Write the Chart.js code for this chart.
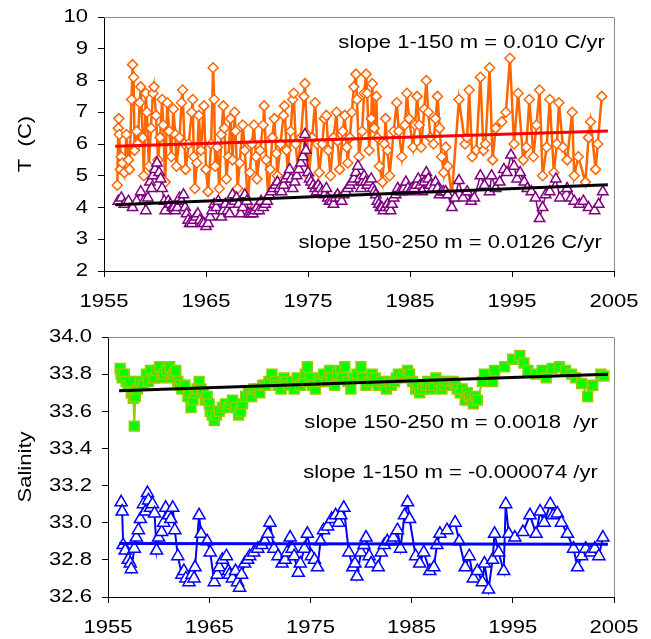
<!DOCTYPE html>
<html><head><meta charset="utf-8">
<script src="https://cdn.jsdelivr.net/npm/chart.js@4"></script>
<style>
html,body{margin:0;padding:0;background:#fff;}
#wrap{position:relative;width:651px;height:639px;background:#fff;}
#c1{position:absolute;left:0;top:0;}
#c2{position:absolute;left:0;top:320px;}
</style></head><body>
<div id="wrap"><canvas id="c1" width="651" height="320"></canvas><canvas id="c2" width="651" height="319"></canvas></div>
<script>
// ---------- DATA ----------
const xTicks = [1955, 1965, 1975, 1985, 1995, 2005];
const tTicks = [2, 3, 4, 5, 6, 7, 8, 9, 10];
const sTicks = [32.6, 32.8, 33.0, 33.2, 33.4, 33.6, 33.8, 34.0];

// Temperature 1-150 m (orange diamonds)
const tYearsShallow = [1956.3,1956.4,1956.45,1956.5,1956.6,1956.7,1956.8,1957.0,1957.2,1957.4,1957.5,1957.7,1957.8,1957.9,1958.0,1958.2,1958.3,1958.5,1958.6,1958.8,1958.9,1959.1,1959.2,1959.4,1959.6,1959.8,1959.9,1960.1,1960.3,1960.5,1960.7,1960.8,1961.0,1961.2,1961.4,1961.6,1961.8,1962.0,1962.1,1962.4,1962.6,1962.7,1962.9,1963.0,1963.3,1963.6,1963.7,1963.8,1963.9,1964.1,1964.3,1964.5,1964.8,1965.0,1965.2,1965.5,1965.7,1965.8,1965.9,1966.1,1966.3,1966.5,1966.7,1966.8,1967.0,1967.2,1967.4,1967.6,1967.8,1967.9,1968.1,1968.3,1968.6,1968.8,1969.1,1969.3,1969.5,1969.7,1969.9,1970.0,1970.3,1970.6,1970.7,1970.9,1971.1,1971.3,1971.5,1971.7,1971.9,1972.0,1972.3,1972.6,1972.7,1972.9,1973.0,1973.3,1973.5,1973.6,1973.8,1974.0,1974.3,1974.6,1974.7,1974.9,1975.1,1975.4,1975.7,1975.9,1976.1,1976.4,1976.6,1976.8,1977.0,1977.2,1977.5,1977.8,1977.9,1978.1,1978.4,1978.6,1978.8,1978.9,1979.1,1979.3,1979.5,1979.7,1979.8,1980.0,1980.3,1980.5,1980.7,1980.8,1981.0,1981.2,1981.3,1981.5,1981.7,1981.8,1982.0,1982.3,1982.5,1982.6,1982.8,1983.0,1983.4,1983.7,1983.9,1984.2,1984.5,1984.7,1984.9,1985.3,1985.5,1985.7,1985.9,1986.1,1986.4,1986.6,1986.8,1987.0,1987.3,1987.5,1987.7,1987.9,1988.1,1988.3,1988.5,1988.7,1989.1,1989.8,1990.4,1990.6,1990.8,1991.1,1991.5,1991.9,1992.2,1992.4,1992.8,1993.1,1993.4,1994.0,1994.4,1994.8,1995.2,1995.6,1996.1,1996.4,1996.7,1997.1,1997.4,1997.7,1998.0,1998.4,1998.7,1999.1,1999.4,1999.6,2000.0,2000.4,2000.9,2001.1,2001.5,2002.2,2002.5,2002.7,2003.2,2003.4,2003.8];
const tShallow = [4.7,6.5,6.8,6.3,5.2,5.6,5.4,5.1,6.3,5.5,5.2,7.4,8.5,8.1,5.8,6.4,6.0,7.3,7.8,6.2,5.0,7.6,7.0,5.3,6.5,7.6,7.8,6.9,5.5,6.2,7.4,6.6,4.8,7.3,6.4,5.6,7.1,6.3,5.3,6.2,7.3,7.7,6.0,5.2,6.0,7.0,7.4,5.6,4.6,5.4,6.9,5.8,7.2,5.2,4.5,6.0,8.4,7.4,5.3,5.9,4.6,6.3,7.2,6.5,4.9,5.6,6.8,5.5,7.0,6.4,4.6,5.4,6.6,5.8,4.1,5.1,6.0,6.6,5.6,4.9,5.8,6.6,7.2,5.5,4.3,5.2,6.2,6.8,5.7,5.0,6.0,6.9,7.2,5.8,5.0,6.4,7.4,7.6,6.0,5.2,6.2,7.5,7.9,6.3,5.0,6.2,7.3,6.0,5.1,6.0,6.8,6.9,5.8,5.0,6.2,7.0,6.1,5.2,6.4,6.9,5.9,5.4,6.2,7.0,7.8,8.2,7.4,5.6,6.4,7.6,8.2,7.6,5.8,6.8,7.9,6.5,7.5,6.2,5.3,4.8,6.0,6.8,5.8,5.0,6.4,7.3,6.4,5.6,6.6,7.6,6.8,5.9,6.6,7.5,6.6,5.9,7.1,8.0,7.0,6.2,6.0,6.8,7.5,6.5,5.6,5.1,5.9,5.3,4.4,7.4,6.0,6.2,7.7,5.6,5.8,8.1,5.8,6.0,8.4,5.5,6.5,6.7,7.0,8.7,6.0,7.6,5.5,5.9,7.4,5.6,6.6,7.7,5.0,5.9,7.4,5.1,6.0,7.3,5.9,5.5,7.0,5.0,5.6,4.8,6.2,6.7,5.2,6.0,7.5];

// Temperature 150-250 m (purple triangles)
const tYearsDeep = [1956.4,1956.7,1957.0,1957.4,1957.8,1958.2,1958.6,1958.9,1959.1,1959.3,1959.5,1959.65,1959.8,1960.0,1960.2,1960.4,1960.55,1960.7,1960.9,1961.0,1961.3,1961.5,1961.7,1961.85,1962.0,1962.2,1962.4,1962.6,1962.8,1962.95,1963.1,1963.25,1963.4,1963.6,1963.8,1964.0,1964.2,1964.4,1964.6,1964.8,1965.0,1965.2,1965.4,1965.6,1965.8,1966.0,1966.2,1966.5,1966.7,1966.9,1967.1,1967.3,1967.45,1967.6,1967.8,1968.0,1968.2,1968.4,1968.6,1968.8,1969.0,1969.2,1969.4,1969.6,1969.8,1970.0,1970.2,1970.4,1970.6,1970.8,1971.0,1971.2,1971.4,1971.6,1971.8,1972.0,1972.2,1972.4,1972.6,1972.8,1973.0,1973.2,1973.35,1973.5,1973.7,1973.9,1974.1,1974.3,1974.5,1974.7,1974.8,1975.0,1975.15,1975.3,1975.5,1975.7,1975.85,1976.0,1976.2,1976.4,1976.6,1976.8,1976.95,1977.1,1977.3,1977.5,1977.7,1977.9,1978.1,1978.3,1978.5,1978.7,1978.9,1979.1,1979.3,1979.5,1979.7,1979.9,1980.05,1980.2,1980.35,1980.5,1980.65,1980.8,1981.0,1981.2,1981.35,1981.5,1981.65,1981.8,1981.95,1982.1,1982.25,1982.4,1982.6,1982.8,1982.95,1983.1,1983.25,1983.4,1983.6,1983.8,1984.0,1984.2,1984.4,1984.6,1984.8,1985.0,1985.2,1985.4,1985.6,1985.8,1986.0,1986.2,1986.4,1986.6,1986.8,1987.0,1987.25,1987.5,1987.7,1987.9,1988.1,1988.3,1988.5,1988.7,1989.1,1989.4,1989.8,1990.2,1990.6,1991.0,1991.3,1991.9,1992.3,1992.8,1993.0,1993.4,1993.8,1994.2,1994.5,1994.9,1995.2,1995.5,1995.8,1996.2,1996.5,1996.9,1997.3,1997.7,1998.0,1998.3,1998.7,1999.3,1999.7,2000.4,2000.8,2001.1,2001.6,2002.0,2002.5,2003.1,2003.5,2003.9];
const tDeep = [4.2,4.3,4.1,4.2,4.0,4.2,4.5,4.2,3.9,4.3,4.8,4.6,5.0,5.2,5.4,5.1,4.9,4.6,4.2,3.9,4.2,4.1,4.0,4.0,3.9,4.0,4.3,4.2,4.4,4.0,3.8,3.6,3.5,3.5,3.6,3.7,3.8,3.6,3.5,3.5,3.4,3.5,3.7,3.9,4.1,4.0,4.2,3.7,3.9,4.1,3.9,3.8,4.1,4.4,4.2,4.3,4.1,3.8,4.0,4.4,4.2,3.8,3.8,3.8,3.9,4.0,3.9,4.2,4.0,4.1,4.2,4.4,4.5,4.6,4.7,4.8,4.6,4.5,4.7,4.9,5.0,5.2,4.9,4.6,4.8,5.0,5.2,5.4,5.6,6.3,5.8,5.1,4.9,4.8,4.7,4.6,4.5,4.7,4.6,4.5,4.4,4.6,4.3,4.2,4.2,4.1,4.3,4.4,4.3,4.2,4.4,4.5,4.6,4.7,4.8,4.9,5.1,5.3,4.9,4.6,4.8,5.0,4.8,4.7,4.8,4.9,4.6,4.5,4.4,4.2,4.1,4.0,4.0,3.9,4.0,4.1,4.0,3.9,4.1,4.3,4.4,4.6,4.5,4.5,4.6,4.8,4.6,4.5,4.6,4.6,4.7,4.9,4.7,4.5,4.8,5.1,4.9,4.7,4.6,4.8,4.6,4.4,4.5,4.5,4.5,4.4,4.0,4.3,4.85,4.3,4.5,4.2,4.3,5.0,4.7,4.5,5.0,4.6,4.8,5.2,5.1,5.65,5.3,4.9,5.1,4.8,4.6,4.5,4.3,3.65,4.0,4.4,4.5,4.9,4.3,4.6,4.3,4.2,4.1,4.2,4.0,3.9,4.1,4.5];

// Salinity 150-250 m (green squares)
const sYearsDeep = [1956.2,1956.3,1956.4,1956.6,1956.8,1957.0,1957.2,1957.3,1957.5,1957.6,1957.7,1957.9,1958.2,1958.5,1958.8,1959.0,1959.2,1959.4,1959.6,1959.8,1960.1,1960.3,1960.5,1960.8,1961.1,1961.3,1961.5,1961.7,1961.9,1962.1,1962.3,1962.6,1962.9,1963.0,1963.2,1963.4,1963.6,1963.8,1964.0,1964.2,1964.4,1964.6,1964.8,1965.0,1965.1,1965.3,1965.5,1965.7,1966.0,1966.3,1966.6,1966.9,1967.1,1967.3,1967.6,1967.9,1968.1,1968.3,1968.6,1968.9,1969.2,1969.4,1969.7,1970.0,1970.3,1970.6,1970.9,1971.2,1971.5,1971.8,1972.1,1972.4,1972.6,1972.9,1973.2,1973.4,1973.7,1974.0,1974.3,1974.5,1974.7,1975.0,1975.2,1975.5,1975.8,1976.0,1976.3,1976.6,1976.9,1977.1,1977.4,1977.7,1978.0,1978.2,1978.4,1978.7,1979.0,1979.3,1979.6,1980.0,1980.2,1980.5,1980.8,1981.1,1981.4,1981.7,1982.0,1982.3,1982.5,1982.8,1983.0,1983.3,1983.5,1983.7,1984.0,1984.3,1984.6,1984.8,1985.1,1985.4,1985.6,1985.8,1986.1,1986.4,1986.6,1986.9,1987.2,1987.4,1987.7,1988.0,1988.3,1988.6,1988.9,1989.1,1989.3,1989.5,1989.8,1990.0,1990.3,1990.5,1990.7,1990.9,1991.1,1991.3,1991.5,1992.0,1992.2,1993.0,1993.2,1994.2,1995.0,1995.7,1996.1,1996.5,1997.3,1997.9,1998.3,1998.9,1999.6,2000.2,2000.8,2001.2,2001.8,2002.4,2002.9,2003.7,2004.0];
const sDeep = [33.83,33.80,33.78,33.80,33.76,33.74,33.76,33.70,33.67,33.52,33.68,33.72,33.76,33.74,33.80,33.76,33.82,33.78,33.78,33.82,33.84,33.78,33.80,33.82,33.84,33.78,33.80,33.82,33.76,33.74,33.72,33.74,33.68,33.70,33.62,33.66,33.70,33.72,33.76,33.72,33.70,33.66,33.68,33.64,33.60,33.58,33.55,33.58,33.60,33.62,33.64,33.62,33.64,33.66,33.62,33.58,33.60,33.64,33.68,33.70,33.68,33.72,33.72,33.70,33.74,33.74,33.76,33.80,33.76,33.74,33.72,33.78,33.76,33.74,33.76,33.72,33.78,33.74,33.76,33.80,33.84,33.78,33.74,33.72,33.76,33.78,33.80,33.76,33.82,33.78,33.74,33.80,33.82,33.78,33.84,33.76,33.72,33.78,33.80,33.84,33.78,33.74,33.76,33.80,33.78,33.74,33.76,33.74,33.72,33.76,33.74,33.76,33.78,33.80,33.78,33.80,33.82,33.80,33.76,33.72,33.74,33.70,33.72,33.74,33.76,33.72,33.74,33.78,33.76,33.72,33.74,33.76,33.74,33.76,33.74,33.72,33.70,33.72,33.66,33.70,33.68,33.66,33.64,33.68,33.66,33.76,33.80,33.76,33.82,33.84,33.88,33.90,33.86,33.82,33.80,33.82,33.78,33.83,33.84,33.82,33.80,33.78,33.75,33.68,33.74,33.80,33.79];

// Salinity 1-150 m (blue triangles)
const sYearsShallow = [1956.3,1956.4,1956.5,1956.7,1957.0,1957.2,1957.3,1957.6,1957.8,1958.0,1958.2,1958.5,1958.7,1958.9,1959.0,1959.2,1959.4,1959.6,1959.8,1960.0,1960.3,1960.5,1960.7,1961.0,1961.2,1961.4,1961.6,1961.9,1962.3,1962.5,1962.7,1963.0,1963.3,1963.5,1963.6,1964.0,1964.2,1964.8,1965.1,1965.5,1965.8,1966.0,1966.3,1966.7,1966.9,1967.0,1967.3,1967.6,1967.8,1968.0,1968.2,1968.5,1968.8,1969.0,1969.4,1969.8,1970.2,1970.5,1970.8,1971.0,1971.4,1971.8,1972.2,1972.5,1972.7,1973.0,1973.2,1973.4,1973.8,1974.0,1974.4,1974.7,1975.1,1975.4,1975.7,1976.0,1976.3,1976.7,1977.1,1977.5,1977.8,1978.0,1978.3,1978.8,1979.2,1979.4,1979.6,1980.0,1980.3,1980.5,1980.8,1981.0,1981.7,1982.0,1982.3,1982.6,1983.0,1983.2,1983.6,1983.9,1984.3,1984.6,1984.8,1985.4,1985.8,1986.2,1986.8,1987.2,1987.5,1987.8,1988.5,1989.3,1989.7,1990.3,1990.7,1991.1,1991.5,1992.0,1992.2,1992.6,1993.0,1993.2,1993.6,1994.1,1994.3,1994.6,1995.2,1996.0,1996.7,1997.3,1997.7,1998.1,1998.7,1999.0,1999.4,1999.8,2000.4,2001.0,2001.4,2001.8,2002.2,2002.7,2003.1,2003.5,2003.9];
const sShallow = [33.11,33.06,32.88,32.85,32.80,32.78,32.75,32.86,32.92,32.96,33.02,33.10,33.06,33.16,33.12,33.08,33.10,33.05,32.85,32.92,32.95,33.00,33.08,33.04,33.02,33.08,32.96,32.82,32.72,32.74,32.70,32.68,32.72,32.70,32.76,33.04,32.94,32.90,32.84,32.68,32.72,32.76,32.80,32.82,32.74,32.72,32.70,32.74,32.68,32.65,32.72,32.78,32.80,32.82,32.84,32.86,32.88,32.90,32.94,33.00,32.86,32.82,32.78,32.80,32.84,32.92,32.86,32.82,32.73,32.78,32.86,32.94,32.82,32.80,32.76,32.90,32.96,32.98,33.02,33.04,33.00,33.04,33.08,32.84,32.76,32.78,32.71,32.84,32.88,32.92,32.82,32.78,32.76,32.84,32.88,32.90,32.90,32.92,32.96,32.86,33.04,33.11,33.02,32.82,32.78,32.84,32.74,32.76,32.88,32.94,32.96,33.00,32.90,32.76,32.82,32.70,32.74,32.68,32.78,32.64,32.80,32.94,32.84,32.74,33.10,32.94,32.92,32.95,33.04,32.94,33.06,33.00,33.10,33.04,33.05,33.00,32.94,32.86,32.76,32.82,32.86,32.84,32.86,32.82,32.92];

// Linear trends
const trendYears = [1956.1, 2004.4];
const tTrendShallow = [5.93, 6.41];
const tTrendDeep = [4.09, 4.72];
const sTrendDeep = [33.71, 33.80];
const sTrendShallow = [32.888, 32.884];

// ---------- HELPERS ----------
const FONT = '"Liberation Sans", Arial, sans-serif';
const TEXT_PX = 19, STRETCH = 1.16;
const pts = (xs, ys) => xs.map((x, i) => ({x: x, y: ys[i]}));

function drawText(ctx, text, x, y, align, rot) {
  ctx.save();
  ctx.translate(x, y);
  if (rot) ctx.rotate(rot);
  ctx.scale(STRETCH, 1);
  ctx.font = TEXT_PX + 'px ' + FONT;
  ctx.fillStyle = '#000';
  ctx.textAlign = align;
  ctx.textBaseline = 'middle';
  ctx.fillText(text, 0, 0);
  ctx.restore();
}

const framePlugin = {
  id: 'frame',
  beforeDatasetsDraw(chart) {
    const a = chart.chartArea, ctx = chart.ctx;
    ctx.save();
    ctx.strokeStyle = '#8c8c8c';
    ctx.lineWidth = 1;
    ctx.beginPath();
    ctx.moveTo(a.left, a.top + 0.5);
    ctx.lineTo(a.right + 0.5, a.top + 0.5);
    ctx.lineTo(a.right + 0.5, a.bottom);
    ctx.stroke();
    ctx.restore();
  }
};
const textPlugin = {
  id: 'texts',
  afterDraw(chart, args, opts) {
    const ctx = chart.ctx, xs = chart.scales.x, ys = chart.scales.y, a = chart.chartArea;
    xs.ticks.forEach(t => drawText(ctx, String(t.value), xs.getPixelForValue(t.value), a.bottom + 31, 'center'));
    ys.ticks.forEach(t => drawText(ctx, Number(t.value).toFixed(opts.decimals), a.left - 16, ys.getPixelForValue(t.value), 'right'));
    drawText(ctx, opts.title, 26, (a.top + a.bottom) / 2, 'center', -Math.PI / 2);
    (opts.items || []).forEach(n => drawText(ctx, n.text, xs.getPixelForValue(n.x), ys.getPixelForValue(n.y), 'right'));
  }
};

function makeScales(yMin, yMax, yTicks, yWidth, xHeight) {
  return {
    x: {
      type: 'linear', min: 1955, max: 2005,
      afterBuildTicks: s => { s.ticks = xTicks.map(v => ({value: v})); },
      ticks: {display: false},
      grid: {drawOnChartArea: false, drawTicks: true, tickLength: 6, color: '#000', lineWidth: 1},
      border: {display: true, color: '#000', width: 1},
      afterFit: s => { s.height = xHeight; }
    },
    y: {
      min: yMin, max: yMax,
      afterBuildTicks: s => { s.ticks = yTicks.map(v => ({value: v})); },
      ticks: {display: false},
      grid: {drawOnChartArea: false, drawTicks: true, tickLength: 6, color: '#000', lineWidth: 1},
      border: {display: true, color: '#000', width: 1},
      afterFit: s => { s.width = yWidth; }
    }
  };
}

// ---------- TOP CHART: Temperature ----------
new Chart(document.getElementById('c1'), {
  type: 'scatter',
  data: {
    datasets: [
      {label: 'trend 150-250', data: pts(trendYears, tTrendDeep), showLine: true, borderColor: '#000', borderWidth: 3,
       pointRadius: 0, order: 1},
      {label: 'trend 1-150', data: pts(trendYears, tTrendShallow), showLine: true, borderColor: '#ff0000', borderWidth: 3,
       pointRadius: 0, order: 2},
      {label: 'T 150-250 m', data: pts(tYearsDeep, tDeep), showLine: true, borderColor: '#800080', borderWidth: 1.5,
       pointStyle: 'triangle', pointRadius: 6, pointBorderWidth: 1.5, pointBackgroundColor: '#ffffff',
       pointBorderColor: '#800080', order: 3},
      {label: 'T 1-150 m', data: pts(tYearsShallow, tShallow), showLine: true, borderColor: '#ff6600', borderWidth: 2.5,
       pointStyle: 'rectRot', pointRadius: 5, pointBorderWidth: 1.5, pointBackgroundColor: '#ffffff',
       pointBorderColor: '#ff6600', order: 4}
    ]
  },
  options: {
    responsive: false, animation: false, devicePixelRatio: 1,
    layout: {autoPadding: false, padding: {left: 0, right: 37, top: 17, bottom: 0}},
    plugins: {
      legend: {display: false}, tooltip: {enabled: false},
      texts: {decimals: 0, title: 'T  (C)', items: [
        {text: 'slope 1-150 m = 0.010 C/yr', x: 2004.1, y: 9.18},
        {text: 'slope 150-250 m = 0.0126 C/yr', x: 2003.8, y: 2.88}
      ]}
    },
    scales: makeScales(2, 10, tTicks, 104, 49)
  },
  plugins: [framePlugin, textPlugin]
});

// ---------- BOTTOM CHART: Salinity ----------
new Chart(document.getElementById('c2'), {
  type: 'scatter',
  data: {
    datasets: [
      {label: 'trend 150-250', data: pts(trendYears, sTrendDeep), showLine: true, borderColor: '#000', borderWidth: 3,
       pointRadius: 0, order: 1},
      {label: 'trend 1-150', data: pts(trendYears, sTrendShallow), showLine: true, borderColor: '#0000ff', borderWidth: 3,
       pointRadius: 0, order: 2},
      {label: 'S 1-150 m', data: pts(sYearsShallow, sShallow), showLine: true, borderColor: '#0000ff', borderWidth: 2,
       pointStyle: 'triangle', pointRadius: 7, pointBorderWidth: 1.5, pointBackgroundColor: '#ffffff',
       pointBorderColor: '#0000ff', order: 3},
      {label: 'S 150-250 m', data: pts(sYearsDeep, sDeep), showLine: true, borderColor: '#99cc00', borderWidth: 2,
       pointStyle: 'rect', pointRadius: 7, pointBorderWidth: 1.5, pointBackgroundColor: '#00ff00',
       pointBorderColor: '#99cc00', order: 4}
    ]
  },
  options: {
    responsive: false, animation: false, devicePixelRatio: 1,
    layout: {autoPadding: false, padding: {left: 0, right: 37, top: 17, bottom: 0}},
    plugins: {
      legend: {display: false}, tooltip: {enabled: false},
      texts: {decimals: 1, title: 'Salinity', items: [
        {text: 'slope 150-250 m = 0.0018  /yr', x: 2003.4, y: 33.54},
        {text: 'slope 1-150 m = -0.000074 /yr', x: 2003.4, y: 33.27}
      ]}
    },
    scales: makeScales(32.6, 34.0, sTicks, 108, 42)
  },
  plugins: [framePlugin, textPlugin]
});
</script>
</body></html>
